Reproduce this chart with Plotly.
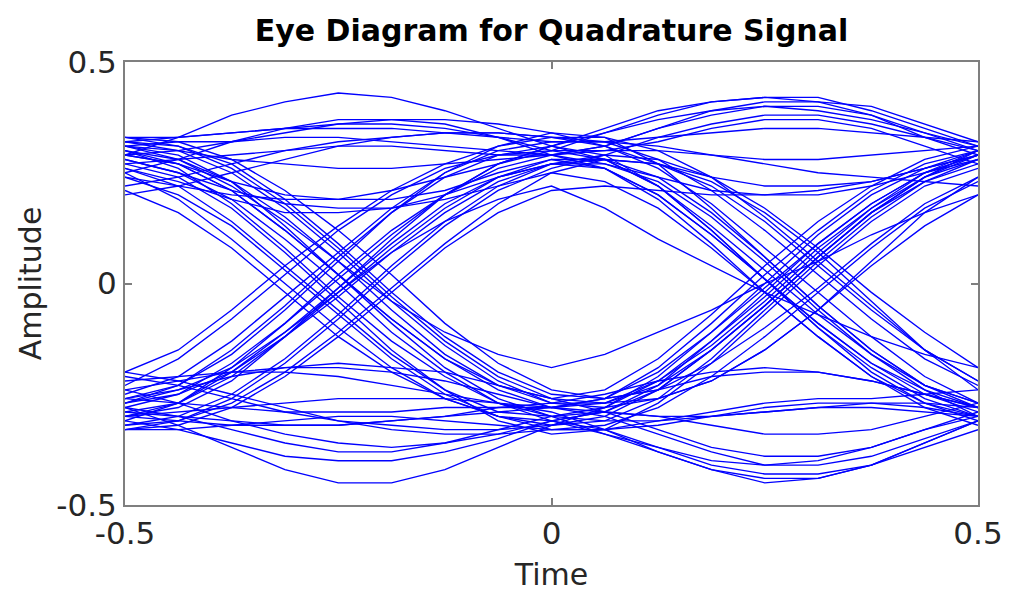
import plotly.graph_objects as go

# Sample instants across one two-symbol window (8 samples per symbol)
time_points = [-0.5, -0.4375, -0.375, -0.3125, -0.25, -0.1875, -0.125, -0.0625, 0.0,
               0.0625, 0.125, 0.1875, 0.25, 0.3125, 0.375, 0.4375, 0.5]

# Traces with large excursions (outer arcs) and mid-speed transitions
traces_group_a = [
    [0.29, 0.33, 0.38, 0.41, 0.43, 0.42, 0.39, 0.35, 0.31, 0.28, 0.22, 0.13, 0.03, -0.07, -0.16, -0.23, -0.27],
    [0.31, 0.29, 0.23, 0.13, 0.02, -0.09, -0.19, -0.26, -0.30, -0.34, -0.38, -0.42, -0.44, -0.44, -0.41, -0.36, -0.31],
    [-0.28, -0.32, -0.37, -0.42, -0.45, -0.45, -0.42, -0.37, -0.32, -0.28, -0.22, -0.13, -0.03, 0.08, 0.17, 0.24, 0.28],
    [-0.30, -0.28, -0.22, -0.12, -0.01, 0.10, 0.20, 0.27, 0.31, 0.35, 0.39, 0.41, 0.42, 0.41, 0.38, 0.33, 0.29],
    [0.27, 0.28, 0.29, 0.30, 0.31, 0.31, 0.30, 0.29, 0.29, 0.31, 0.35, 0.39, 0.41, 0.41, 0.40, 0.36, 0.32],
    [-0.24, -0.22, -0.20, -0.19, -0.19, -0.20, -0.22, -0.25, -0.28, -0.29, -0.30, -0.30, -0.29, -0.28, -0.27, -0.27, -0.28],
    [0.25, 0.19, 0.10, 0.00, -0.10, -0.19, -0.26, -0.30, -0.31, -0.29, -0.23, -0.13, -0.02, 0.09, 0.18, 0.25, 0.29],
    [-0.23, -0.17, -0.08, 0.02, 0.12, 0.20, 0.26, 0.29, 0.30, 0.28, 0.22, 0.12, 0.01, -0.10, -0.19, -0.26, -0.30],
    [0.33, 0.32, 0.28, 0.21, 0.12, 0.02, -0.09, -0.18, -0.24, -0.26, -0.24, -0.18, -0.10, -0.01, 0.09, 0.18, 0.24],
    [-0.32, -0.31, -0.27, -0.20, -0.11, -0.01, 0.09, 0.18, 0.25, 0.28, 0.27, 0.22, 0.14, 0.04, -0.06, -0.15, -0.22],
    [0.28, 0.25, 0.21, 0.18, 0.17, 0.17, 0.19, 0.22, 0.25, 0.23, 0.17, 0.08, -0.02, -0.12, -0.21, -0.28, -0.32],
    [-0.27, -0.24, -0.21, -0.19, -0.18, -0.19, -0.20, -0.23, -0.26, -0.24, -0.17, -0.07, 0.04, 0.14, 0.22, 0.28, 0.31],
]

traces_group_b = [
    [0.32, 0.33, 0.34, 0.35, 0.36, 0.37, 0.37, 0.36, 0.34, 0.31, 0.27, 0.24, 0.22, 0.22, 0.23, 0.26, 0.30],
    [-0.31, -0.33, -0.36, -0.39, -0.40, -0.40, -0.38, -0.35, -0.31, -0.33, -0.37, -0.41, -0.43, -0.43, -0.41, -0.37, -0.33],
    [0.30, 0.26, 0.18, 0.08, -0.03, -0.13, -0.21, -0.27, -0.30, -0.31, -0.31, -0.30, -0.29, -0.28, -0.28, -0.29, -0.30],
    [-0.31, -0.27, -0.19, -0.09, 0.02, 0.12, 0.20, 0.26, 0.29, 0.30, 0.30, 0.29, 0.28, 0.28, 0.29, 0.30, 0.31],
    [0.29, 0.27, 0.21, 0.12, 0.02, -0.08, -0.17, -0.24, -0.28, -0.26, -0.19, -0.09, 0.02, 0.12, 0.21, 0.27, 0.30],
    [-0.29, -0.27, -0.21, -0.12, -0.02, 0.08, 0.17, 0.24, 0.28, 0.26, 0.19, 0.09, -0.02, -0.12, -0.21, -0.27, -0.30],
    [0.22, 0.24, 0.27, 0.30, 0.32, 0.33, 0.34, 0.34, 0.33, 0.32, 0.28, 0.21, 0.12, 0.02, -0.08, -0.17, -0.23],
    [-0.21, -0.23, -0.26, -0.29, -0.31, -0.33, -0.34, -0.34, -0.33, -0.32, -0.28, -0.21, -0.12, -0.02, 0.08, 0.17, 0.23],
    [0.32, 0.31, 0.27, 0.19, 0.09, -0.02, -0.12, -0.20, -0.25, -0.26, -0.24, -0.21, -0.20, -0.20, -0.22, -0.25, -0.28],
    [-0.33, -0.32, -0.28, -0.21, -0.12, -0.02, 0.08, 0.16, 0.21, 0.22, 0.21, 0.20, 0.20, 0.21, 0.23, 0.26, 0.29],
    [0.25, 0.28, 0.32, 0.35, 0.37, 0.37, 0.36, 0.33, 0.29, 0.31, 0.35, 0.38, 0.40, 0.40, 0.38, 0.34, 0.30],
    [-0.26, -0.27, -0.28, -0.29, -0.29, -0.29, -0.28, -0.28, -0.28, -0.30, -0.34, -0.38, -0.41, -0.41, -0.39, -0.35, -0.31],
]

traces_group_c = [
    [0.21, 0.16, 0.08, -0.02, -0.12, -0.20, -0.26, -0.30, -0.32, -0.31, -0.26, -0.17, -0.06, 0.05, 0.15, 0.23, 0.28],
    [-0.20, -0.15, -0.06, 0.04, 0.13, 0.21, 0.27, 0.31, 0.33, 0.33, 0.30, 0.24, 0.15, 0.05, -0.05, -0.15, -0.22],
    [0.30, 0.27, 0.23, 0.20, 0.19, 0.19, 0.21, 0.25, 0.28, 0.28, 0.24, 0.16, 0.06, -0.05, -0.15, -0.23, -0.28],
    [-0.24, -0.27, -0.31, -0.34, -0.36, -0.37, -0.36, -0.34, -0.31, -0.29, -0.24, -0.15, -0.05, 0.06, 0.16, 0.23, 0.27],
    [0.31, 0.28, 0.22, 0.14, 0.05, -0.04, -0.11, -0.16, -0.19, -0.16, -0.11, -0.06, 0.00, 0.05, 0.11, 0.16, 0.20],
    [-0.30, -0.27, -0.20, -0.11, -0.02, 0.07, 0.14, 0.19, 0.22, 0.17, 0.10, 0.04, -0.02, -0.07, -0.12, -0.16, -0.19],
    [0.33, 0.33, 0.34, 0.35, 0.35, 0.35, 0.34, 0.33, 0.32, 0.32, 0.33, 0.34, 0.35, 0.35, 0.34, 0.33, 0.32],
    [-0.33, -0.33, -0.32, -0.31, -0.30, -0.30, -0.31, -0.32, -0.33, -0.33, -0.32, -0.30, -0.28, -0.27, -0.27, -0.28, -0.30],
    [0.27, 0.24, 0.17, 0.07, -0.04, -0.15, -0.24, -0.31, -0.34, -0.33, -0.27, -0.18, -0.07, 0.04, 0.14, 0.22, 0.26],
    [-0.26, -0.23, -0.16, -0.06, 0.05, 0.16, 0.25, 0.31, 0.34, 0.33, 0.27, 0.17, 0.06, -0.05, -0.15, -0.23, -0.27],
    [0.26, 0.23, 0.19, 0.16, 0.16, 0.17, 0.20, 0.24, 0.27, 0.26, 0.20, 0.11, 0.01, -0.09, -0.18, -0.25, -0.29],
    [-0.30, -0.29, -0.28, -0.27, -0.26, -0.26, -0.26, -0.27, -0.28, -0.27, -0.22, -0.14, -0.04, 0.07, 0.17, 0.25, 0.30],
]

traces_group_d = [
    [0.28, 0.25, 0.19, 0.10, 0.00, -0.11, -0.20, -0.27, -0.31, -0.34, -0.37, -0.40, -0.41, -0.40, -0.37, -0.33, -0.29],
    [-0.28, -0.25, -0.18, -0.09, 0.01, 0.11, 0.20, 0.27, 0.31, 0.34, 0.37, 0.39, 0.40, 0.39, 0.37, 0.34, 0.31],
    [0.20, 0.22, 0.25, 0.28, 0.31, 0.33, 0.34, 0.34, 0.33, 0.31, 0.26, 0.18, 0.08, -0.02, -0.12, -0.21, -0.27],
    [-0.20, -0.22, -0.25, -0.28, -0.31, -0.32, -0.33, -0.33, -0.32, -0.30, -0.24, -0.15, -0.05, 0.06, 0.16, 0.24, 0.29],
    [0.30, 0.28, 0.23, 0.15, 0.05, -0.06, -0.16, -0.23, -0.27, -0.28, -0.26, -0.22, -0.15, -0.06, 0.04, 0.13, 0.20],
    [-0.27, -0.25, -0.20, -0.12, -0.03, 0.07, 0.16, 0.23, 0.27, 0.29, 0.28, 0.24, 0.17, 0.08, -0.02, -0.11, -0.19],
    [0.31, 0.30, 0.28, 0.27, 0.26, 0.26, 0.27, 0.28, 0.29, 0.27, 0.24, 0.21, 0.20, 0.20, 0.22, 0.25, 0.28],
    [-0.29, -0.30, -0.31, -0.32, -0.32, -0.31, -0.30, -0.28, -0.27, -0.25, -0.22, -0.20, -0.19, -0.20, -0.22, -0.25, -0.28],
    [0.24, 0.22, 0.20, 0.19, 0.19, 0.21, 0.24, 0.27, 0.30, 0.34, 0.38, 0.41, 0.42, 0.42, 0.39, 0.35, 0.31],
    [-0.22, -0.21, -0.20, -0.20, -0.21, -0.23, -0.25, -0.27, -0.29, -0.33, -0.38, -0.42, -0.45, -0.44, -0.41, -0.36, -0.31],
]

traces_group_e = [
    [0.32, 0.30, 0.25, 0.17, 0.07, -0.04, -0.14, -0.22, -0.27, -0.27, -0.23, -0.15, -0.05, 0.06, 0.16, 0.24, 0.30],
    [-0.32, -0.30, -0.25, -0.17, -0.07, 0.04, 0.14, 0.22, 0.27, 0.27, 0.23, 0.15, 0.05, -0.06, -0.16, -0.24, -0.30],
    [0.24, 0.20, 0.13, 0.03, -0.07, -0.17, -0.25, -0.30, -0.33, -0.33, -0.31, -0.29, -0.27, -0.26, -0.26, -0.25, -0.24],
    [-0.25, -0.21, -0.13, -0.03, 0.07, 0.17, 0.25, 0.30, 0.32, 0.32, 0.31, 0.29, 0.27, 0.25, 0.24, 0.23, 0.22],
    [0.31, 0.32, 0.32, 0.33, 0.33, 0.32, 0.31, 0.30, 0.29, 0.26, 0.20, 0.11, 0.01, -0.09, -0.18, -0.24, -0.28],
    [-0.30, -0.31, -0.32, -0.32, -0.32, -0.31, -0.30, -0.29, -0.28, -0.26, -0.20, -0.11, -0.01, 0.09, 0.18, 0.25, 0.29],
    [0.29, 0.27, 0.21, 0.12, 0.02, -0.08, -0.17, -0.23, -0.26, -0.27, -0.26, -0.22, -0.15, -0.06, 0.05, 0.16, 0.24],
    [-0.26, -0.24, -0.19, -0.11, -0.01, 0.09, 0.18, 0.24, 0.27, 0.28, 0.27, 0.23, 0.16, 0.07, -0.04, -0.15, -0.24],
    [0.29, 0.30, 0.32, 0.34, 0.36, 0.36, 0.35, 0.33, 0.30, 0.30, 0.32, 0.35, 0.37, 0.37, 0.35, 0.31, 0.27],
    [-0.28, -0.30, -0.33, -0.36, -0.38, -0.38, -0.36, -0.33, -0.30, -0.29, -0.30, -0.32, -0.34, -0.34, -0.33, -0.30, -0.27],
    [0.26, 0.22, 0.14, 0.04, -0.06, -0.16, -0.24, -0.29, -0.30, -0.28, -0.21, -0.11, 0.00, 0.11, 0.20, 0.26, 0.29],
    [-0.27, -0.23, -0.15, -0.05, 0.06, 0.16, 0.24, 0.29, 0.31, 0.29, 0.22, 0.12, 0.01, -0.10, -0.20, -0.27, -0.31],
    [0.33, 0.31, 0.26, 0.18, 0.08, -0.03, -0.13, -0.21, -0.26, -0.29, -0.33, -0.37, -0.39, -0.39, -0.37, -0.33, -0.30],
    [-0.33, -0.31, -0.26, -0.18, -0.08, 0.03, 0.13, 0.21, 0.26, 0.29, 0.33, 0.36, 0.38, 0.38, 0.36, 0.33, 0.30],
]

tick_values = [-0.5, 0.0, 0.5]
tick_labels = ["-0.5", "0", "0.5"]

FONT = "DejaVu Sans, Verdana, sans-serif"

fig = go.Figure()
for group in (traces_group_a, traces_group_b, traces_group_c, traces_group_d, traces_group_e):
    for values in group:
        fig.add_trace(go.Scatter(
            x=time_points, y=values, mode="lines",
            line=dict(color="#0000ff", width=1.35),
            showlegend=False, hoverinfo="skip"))

axis_common = dict(
    tickvals=tick_values, ticktext=tick_labels,
    ticks="inside", ticklen=7, tickwidth=1.5, tickcolor="#7f7f7f",
    showline=True, linecolor="#7f7f7f", linewidth=2, mirror="allticks",
    showgrid=False, zeroline=False, automargin=False,
    ticklabeloverflow="allow",
    tickfont=dict(family=FONT, size=31, color="#262626"),
)

fig.update_layout(
    width=994, height=584,
    paper_bgcolor="white", plot_bgcolor="white",
    margin=dict(l=117, r=24, t=54, b=87),
    title=dict(text="<b>Eye Diagram for Quadrature Signal</b>",
               x=0.5, xref="paper", xanchor="center",
               y=0.962, yref="container", yanchor="middle",
               font=dict(family=FONT, size=30, color="#000000")),
    xaxis=dict(range=[-0.5, 0.5],
               title=dict(text="Time", standoff=17,
                          font=dict(family=FONT, size=30, color="#262626")),
               **axis_common),
    yaxis=dict(range=[-0.5, 0.5],
               title=dict(text="Amplitude", standoff=6,
                          font=dict(family=FONT, size=30, color="#262626")),
               **axis_common),
)

fig.write_html("out.html")
